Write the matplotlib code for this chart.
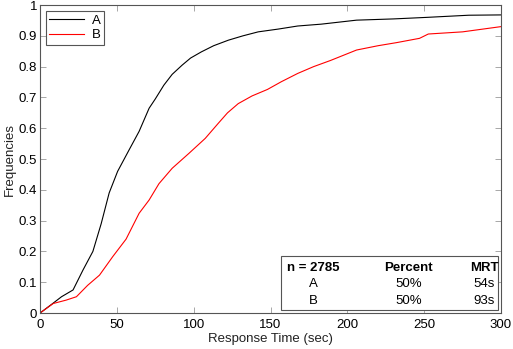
import matplotlib
matplotlib.use('Agg')
import matplotlib.pyplot as plt

plt.rcParams['font.family'] = ['Liberation Sans', 'DejaVu Sans']

# cumulative response time curves (seconds, fraction answered)
t_a = [0, 8, 14, 21.5, 28, 34.4, 39.8, 45, 50.5, 58, 64.5, 71, 75, 80.6,
       86, 92.5, 98, 105, 113, 122.6, 132, 142, 155, 167.7, 183, 206, 230,
       251.6, 279, 300]
f_a = [0, 0.03, 0.053, 0.075, 0.14, 0.2, 0.29, 0.39, 0.46, 0.53, 0.59, 0.665,
       0.695, 0.74, 0.775, 0.805, 0.828, 0.848, 0.868, 0.886, 0.9, 0.913,
       0.922, 0.932, 0.938, 0.951, 0.955, 0.96, 0.967, 0.968]
t_b = [0, 8.6, 17, 23.7, 31, 38.7, 47.3, 56, 64.5, 71, 77.4, 86, 96.8, 107.5,
       116, 122, 129, 138, 148, 157, 167.7, 178, 189, 206, 220, 232, 247,
       252.7, 275, 300]
f_b = [0, 0.031, 0.042, 0.053, 0.09, 0.123, 0.183, 0.24, 0.324, 0.367, 0.42,
       0.47, 0.518, 0.567, 0.616, 0.65, 0.68, 0.705, 0.726, 0.751, 0.778,
       0.8, 0.82, 0.854, 0.868, 0.878, 0.892, 0.906, 0.913, 0.93]

n_total = 2785
groups = ['A', 'B']
percent = ['50%', '50%']
mrt = ['54s', '93s']

fs = 9.5
fig = plt.figure(figsize=(5.13, 3.49), dpi=100)
ax = fig.add_axes([0.078, 0.103, 0.8986, 0.8825])

ax.plot(t_a, f_a, color='black', lw=0.8, label='A')
ax.plot(t_b, f_b, color='red', lw=0.8, label='B')

ax.set_xlim(0, 300)
ax.set_ylim(0, 1)
ax.set_xticks(range(0, 301, 50))
ax.set_yticks([i / 10 for i in range(11)])
ax.set_yticklabels(['0', '0.1', '0.2', '0.3', '0.4', '0.5', '0.6', '0.7',
                    '0.8', '0.9', '1'])
ax.tick_params(direction='in', length=4, width=0.6, color='#999999',
               labelsize=fs, top=True, right=True, pad=2)
ax.tick_params(axis='x', pad=4)
for s in ax.spines.values():
    s.set_color('#555555')
    s.set_linewidth(0.8)
ax.set_xlabel('Response Time (sec)', fontsize=fs, labelpad=2, color='#222222')
ax.set_ylabel('Frequencies', fontsize=fs, labelpad=2, color='#222222')

leg = ax.legend(loc='upper left', fontsize=fs, handlelength=2.6,
                fancybox=False, framealpha=1, edgecolor='#555555',
                borderaxespad=0.45, borderpad=0.25, labelspacing=0.2,
                handletextpad=0.6)
leg.get_frame().set_linewidth(0.8)

# summary box in the lower right
box = plt.Rectangle((157, 0.01), 141, 0.175, transform=ax.transData,
                    facecolor='white', edgecolor='#555555', lw=0.8, zorder=3)
ax.add_patch(box)
cols = [178, 240, 289]
row_y = [0.147, 0.095, 0.040]
hdr = ['n = %d' % n_total, 'Percent', 'MRT']
for x, h in zip(cols, hdr):
    ax.text(x, row_y[0], h, ha='center', va='center', fontsize=fs,
            fontweight='bold', zorder=4)
for i, g in enumerate(groups):
    y = row_y[i + 1]
    ax.text(cols[0], y, g, ha='center', va='center', fontsize=fs, zorder=4)
    ax.text(cols[1], y, percent[i], ha='center', va='center', fontsize=fs,
            zorder=4)
    ax.text(cols[2], y, mrt[i], ha='center', va='center', fontsize=fs,
            zorder=4)

fig.savefig('out.png', dpi=100)
